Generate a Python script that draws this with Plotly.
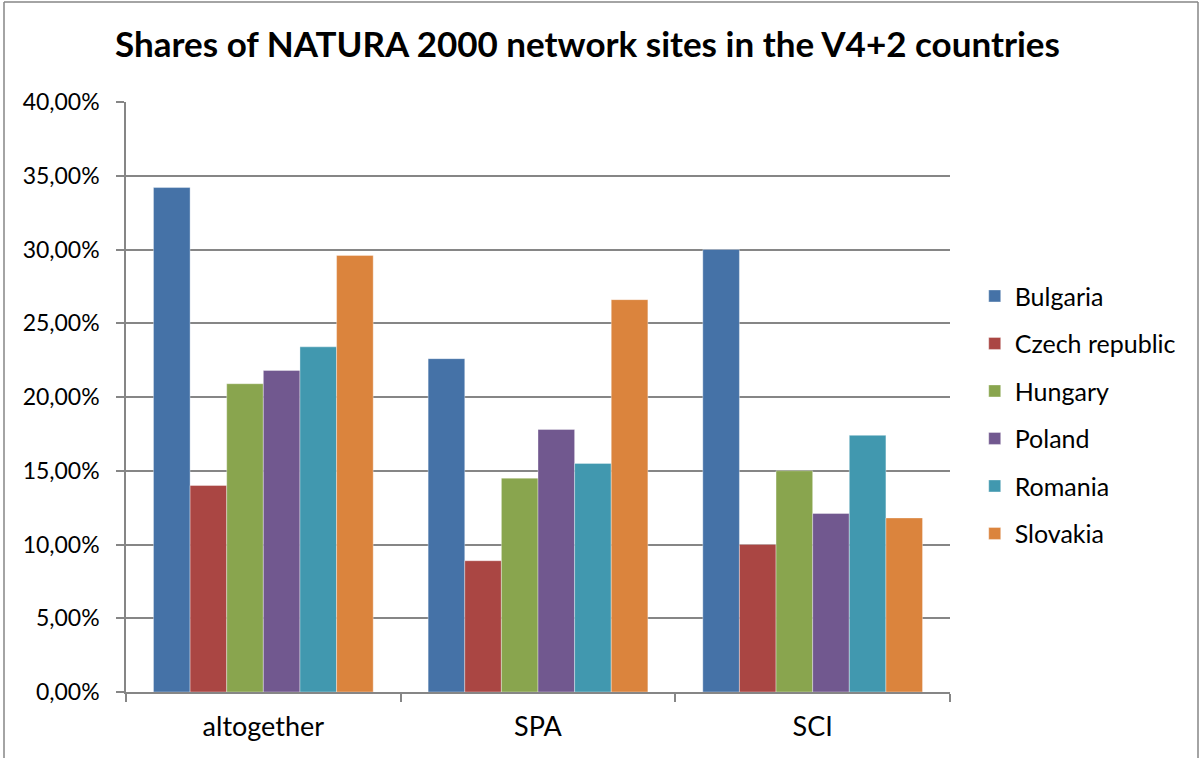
import plotly.graph_objects as go

# ——— data ———
categories = ["altogether", "SPA", "SCI"]
countries = ["Bulgaria", "Czech republic", "Hungary", "Poland", "Romania", "Slovakia"]
bulgaria = [0.342, 0.226, 0.300]
czech = [0.140, 0.089, 0.100]
hungary = [0.209, 0.145, 0.150]
poland = [0.218, 0.178, 0.121]
romania = [0.234, 0.155, 0.174]
slovakia = [0.296, 0.266, 0.118]
y_ticks = [0, 0.05, 0.10, 0.15, 0.20, 0.25, 0.30, 0.35, 0.40]

series = [bulgaria, czech, hungary, poland, romania, slovakia]
colors = ["#4572A7", "#AA4643", "#89A54E", "#71588F", "#4198AF", "#DB843D"]

W, H = 1199, 758
ML, MR, MT, MB = 126, 249, 102, 66

fig = go.Figure()
for name, vals, col in zip(countries, series, colors):
    fig.add_trace(go.Bar(
        x=categories, y=vals, name=name, legendgroup=name,
        marker=dict(color=col, line=dict(color="rgba(255,255,255,0.6)", width=0.6)),
    ))

fig.update_layout(
    width=W, height=H,
    margin=dict(l=ML, r=MR, t=MT, b=MB),
    paper_bgcolor="white", plot_bgcolor="white",
    separators=",.",
    barmode="group", bargap=0.2, bargroupgap=0,
    font=dict(family="Lato, 'Open Sans', sans-serif", color="#000000"),
    title=dict(
        text="<b>Shares of NATURA 2000 network sites in the V4+2 countries</b>",
        x=0.49, xanchor="center", y=0.941, yanchor="middle",
        font=dict(size=35),
    ),
    legend=dict(
        x=1.03, xanchor="left", y=0.47, yanchor="middle",
        font=dict(size=25), tracegroupgap=12,
    ),
    showlegend=True,
)

fig.update_xaxes(
    showline=True, linecolor="#868686", linewidth=1.5,
    ticks="outside", tickson="boundaries", ticklen=8, tickcolor="#868686", tickwidth=1.5,
    tickfont=dict(size=27), ticklabelstandoff=10,
)
fig.update_yaxes(
    range=[0, 0.40], tickvals=y_ticks, tickformat=".2%",
    showline=True, linecolor="#868686", linewidth=1.5,
    ticks="outside", ticklen=8, tickcolor="#868686", tickwidth=1.5,
    showgrid=True, gridcolor="#868686", gridwidth=1.5,
    zeroline=False, tickfont=dict(size=23), ticklabelstandoff=12,
)

# outer chart border (left, top, right)
pw = W - ML - MR
ph = H - MT - MB
x0 = (4 - ML) / pw
x1 = (1198 - ML) / pw
ytop = 1 + (MT - 2) / ph
ybot = -(MB + 5) / ph
for xa, ya, xb, yb in [(x0, ybot, x0, ytop), (x0, ytop, x1, ytop), (x1, ytop, x1, ybot)]:
    fig.add_shape(type="line", xref="paper", yref="paper",
                  x0=xa, y0=ya, x1=xb, y1=yb,
                  line=dict(color="#868686", width=1.5))

fig.write_html("out.html", config={"displayModeBar": False},
               post_script="document.body.style.margin='0px';")
